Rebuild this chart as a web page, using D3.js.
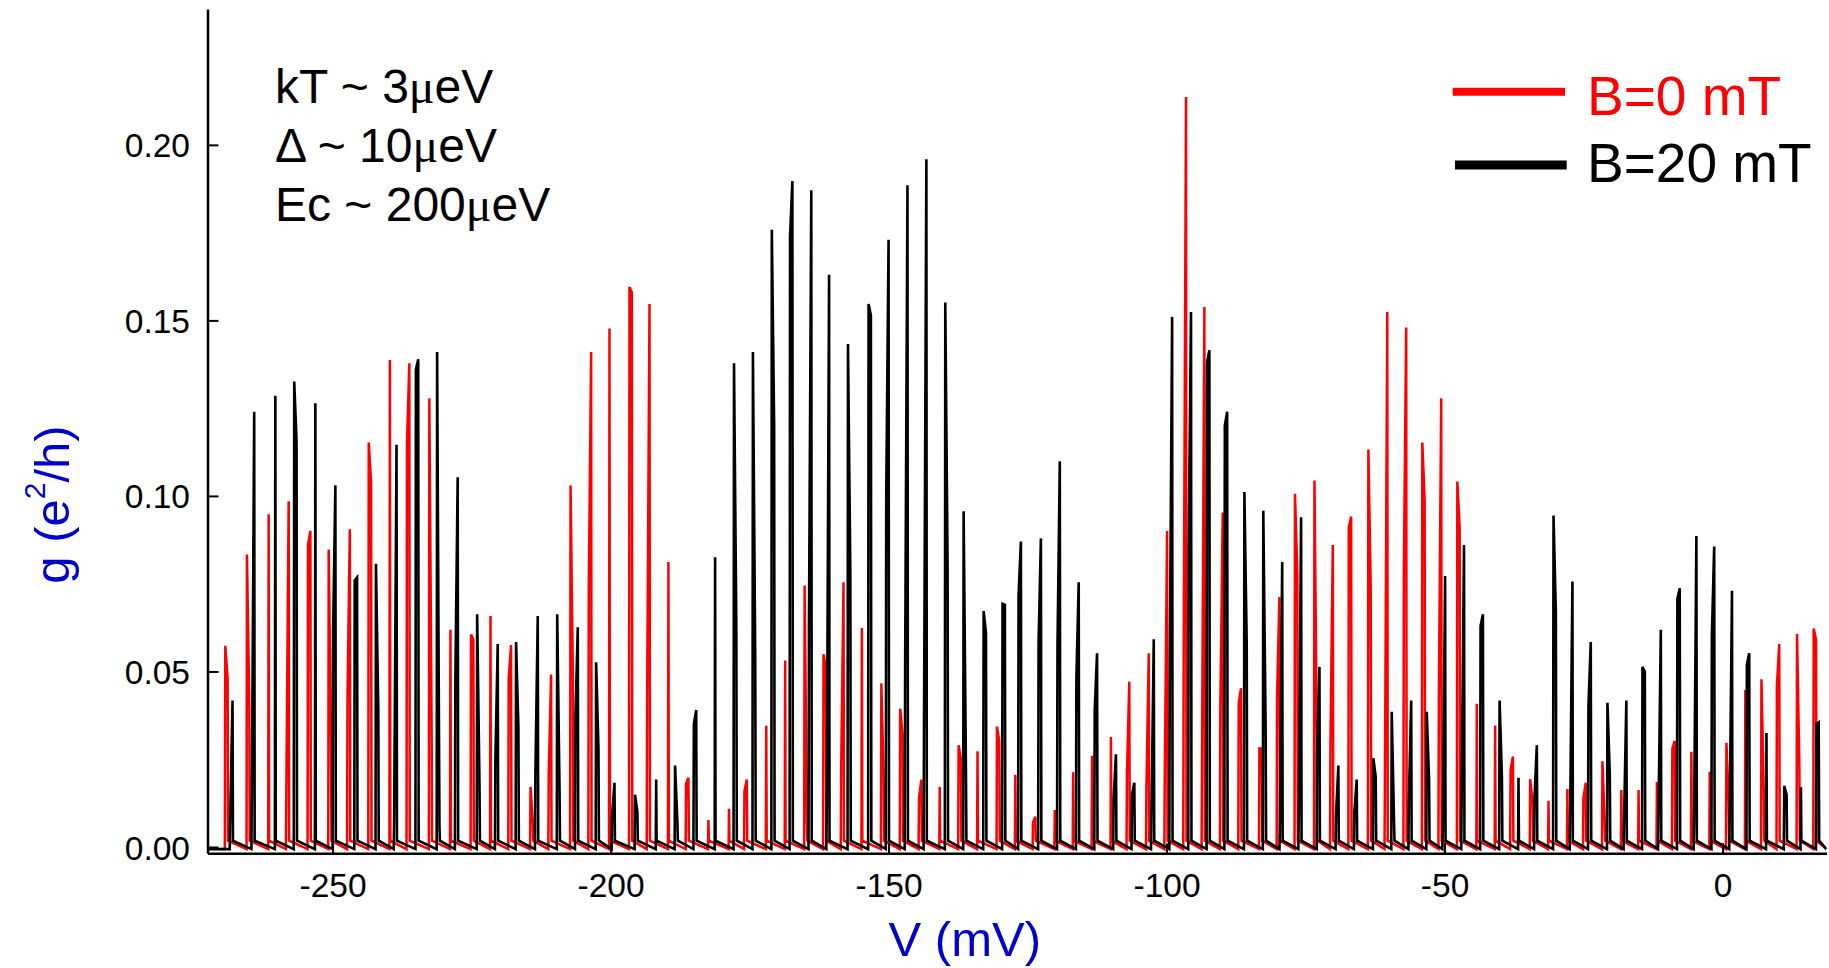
<!DOCTYPE html>
<html>
<head>
<meta charset="utf-8">
<script src="https://cdn.jsdelivr.net/npm/d3@7"></script>
<style>
  html, body { margin: 0; padding: 0; background: #fff; }
  svg { display: block; font-family: "Liberation Sans", Arial, Helvetica, sans-serif; }
</style>
</head>
<body>
<svg id="chart" width="1829" height="968"></svg>
<script>
// Coulomb-blockade conductance peaks g(V) at two magnetic fields.
// Each peak: gate voltage (mV), peak height (e^2/h), and a shoulder value:
// negative = shoulder on the rising (left) flank, positive = on the falling (right) flank, 0 = none.

const seriesNames = ["B=0 mT", "B=20 mT"];

const redV = [-269.3, -265.4, -261.5, -257.9, -254.0, -250.7, -246.9, -243.5, -239.7, -236.2,
  -232.6, -228.8, -225.1, -221.6, -217.9, -214.4, -210.7, -207.2, -203.5, -200.2,
  -196.6, -193.0, -189.6, -186.0, -182.4, -178.7, -175.5, -172.0, -168.6, -165.1,
  -161.7, -158.1, -154.8, -151.3, -147.9, -144.1, -140.8, -137.4, -134.0, -130.5,
  -127.2, -123.6, -120.1, -116.8, -113.4, -110.0, -106.7, -103.2, -99.9, -96.5,
  -93.2, -89.9, -86.6, -83.3, -79.7, -76.9, -73.4, -70.1, -66.8, -63.7,
  -60.3, -56.9, -54.0, -50.6, -47.7, -44.2, -40.9, -37.7, -34.6, -31.3,
  -27.9, -24.6, -21.6, -18.2, -15.1, -11.8, -8.6, -5.6, -2.3, 0.7,
  4.1, 7.0, 10.2, 13.4, 16.4];
const redG = [0.0573, 0.0833, 0.0948, 0.0985, 0.0900, 0.0847, 0.0905, 0.1152, 0.1387, 0.1378,
  0.1278, 0.0619, 0.0605, 0.0658, 0.0575, 0.0171, 0.0491, 0.1030, 0.1410, 0.1477,
  0.1595, 0.1547, 0.0812, 0.0197, 0.0077, 0.0109, 0.0192, 0.0345, 0.0531, 0.0745,
  0.0549, 0.0754, 0.0624, 0.0466, 0.0394, 0.0192, 0.0171, 0.0290, 0.0273, 0.0343,
  0.0206, 0.0086, 0.0105, 0.0213, 0.0260, 0.0313, 0.0471, 0.0552, 0.0900, 0.2136,
  0.1538, 0.0953, 0.0452, 0.0281, 0.0712, 0.1006, 0.1044, 0.0860, 0.0941, 0.1132,
  0.1524, 0.1480, 0.1152, 0.1278, 0.1041, 0.0408, 0.0346, 0.0258, 0.0193, 0.0132,
  0.0165, 0.0183, 0.0244, 0.0162, 0.0162, 0.0185, 0.0302, 0.0271, 0.0214, 0.0297,
  0.0447, 0.0478, 0.0578, 0.0607, 0.0622];
const redShoulder = [0.048, 0.040, 0, -0.016, -0.086, 0.030, -0.042, 0.104, 0, -0.115,
  0.032, 0, 0.059, 0, -0.048, 0.007, -0.021, 0.048, -0.074, 0,
  0.158, -0.043, 0, -0.018, 0, 0, -0.016, 0, 0, 0.006,
  0.051, -0.023, 0, 0.020, 0.032, -0.014, 0, 0.025, 0, 0.030,
  0, -0.007, 0, 0, 0, 0, -0.021, -0.017, -0.021, -0.055,
  -0.026, -0.041, -0.041, 0.028, -0.043, 0.078, 0.032, -0.029, -0.091, 0.074,
  -0.019, -0.078, 0.099, -0.043, 0.091, 0, 0, -0.022, 0.013, 0,
  0, -0.014, 0.007, 0, 0, 0, -0.028, 0, 0, 0.013,
  0, 0.016, -0.046, 0.023, 0.059];

const blackV = [-268.0, -264.1, -260.3, -256.9, -253.1, -249.5, -245.6, -242.2, -238.5, -234.6,
  -231.2, -227.5, -224.0, -220.3, -217.0, -213.1, -209.6, -205.9, -202.6, -199.3,
  -195.6, -191.8, -188.4, -184.6, -181.2, -177.8, -174.4, -171.0, -167.3, -163.9,
  -160.7, -157.3, -153.6, -150.0, -146.6, -143.2, -139.8, -136.5, -132.9, -129.5,
  -126.2, -122.6, -119.2, -115.8, -112.5, -109.1, -105.8, -102.3, -99.0, -95.6,
  -92.3, -89.1, -86.0, -82.6, -79.2, -75.8, -72.5, -69.1, -65.8, -62.8,
  -59.5, -56.0, -53.2, -49.9, -46.5, -43.1, -40.1, -36.7, -33.4, -30.4,
  -27.0, -23.7, -20.7, -17.3, -14.4, -11.1, -7.7, -4.7, -1.5, 1.7,
  4.8, 7.9, 11.1, 14.1, 17.3];
const blackG = [0.0417, 0.1240, 0.1285, 0.1326, 0.1264, 0.1030, 0.0768, 0.0807, 0.1146, 0.1389,
  0.1410, 0.1053, 0.0663, 0.0578, 0.0584, 0.0658, 0.0663, 0.0626, 0.0526, 0.0183,
  0.0149, 0.0192, 0.0232, 0.0390, 0.0825, 0.1378, 0.1410, 0.1758, 0.1897, 0.1871,
  0.1630, 0.1433, 0.1547, 0.1730, 0.1885, 0.1959, 0.1551, 0.0956, 0.0672, 0.0693,
  0.0870, 0.0879, 0.1099, 0.0754, 0.0552, 0.0264, 0.0183, 0.0592, 0.1510, 0.1524,
  0.1415, 0.1240, 0.1011, 0.0958, 0.0812, 0.0939, 0.0513, 0.0232, 0.0192, 0.0253,
  0.0385, 0.0417, 0.0385, 0.0772, 0.0860, 0.0663, 0.0417, 0.0197, 0.0290, 0.0944,
  0.0756, 0.0584, 0.0411, 0.0417, 0.0513, 0.0619, 0.0737, 0.0886, 0.0856, 0.0730,
  0.0552, 0.0325, 0.0174, 0.0171, 0.0355];
const blackShoulder = [-0.008, -0.016, 0, 0.1155, 0, -0.060, -0.076, 0.039, -0.010, -0.136,
  0.006, -0.048, 0.018, -0.025, 0.034, -0.021, 0.016, -0.037, 0.028, -0.009,
  0.010, 0, 0.007, -0.035, 0, 0.062, 0.053, 0.120, -0.174, -0.062,
  -0.010, 0.0786, 0.1515, -0.1006, -0.051, -0.037, 0.080, 0.021, 0.061, 0.069,
  -0.0716, -0.058, -0.057, -0.048, -0.039, -0.014, -0.015, -0.009, -0.051, -0.0865,
  -0.138, -0.120, 0.058, 0.034, -0.004, -0.009, -0.027, -0.009, -0.010, 0.020,
  0.007, -0.013, 0.019, -0.004, -0.014, -0.063, 0.020, 0, -0.014, 0.067,
  -0.007, -0.040, 0.021, -0.007, 0.050, -0.009, -0.0707, -0.007, -0.060, -0.007,
  -0.052, 0, 0.015, 0, -0.035];

const xTicks = [-250, -200, -150, -100, -50, 0];
const yTicks = [0.00, 0.05, 0.10, 0.15, 0.20];
// Parameter notes: [prefix, value]; each is followed by a "μeV" unit
const notes = [["kT ~ ", "3"], ["\u0394 ~ ", "10"], ["Ec ~ ", "200"]];

const RED = "#ff0000", BLACK = "#000000", BLUE = "#0000cc";

const svg = d3.select("#chart");
const plotLeft = 207.5, plotRight = 1826.5, plotTop = 9, plotBottom = 853.3;

const x = d3.scaleLinear().domain([-272.5, 18.7]).range([plotLeft, plotRight]);
const y = d3.scaleLinear().domain([-0.0018, 0.2387]).range([plotBottom, plotTop]);

// Trace geometry (mV / conductance offsets of the sawtooth baseline)
const EDGE = 0.08, SH = 0.42, BASE_HI = 0.0018, BASE_LO = -0.0006;

function trace(pos, amp, sh, start, end) {
  const pts = [[start, BASE_LO]];
  pos.forEach((v, i) => {
    const g = amp[i], s = sh[i];
    if (s < 0) {
      pts.push([v - SH - EDGE, BASE_LO], [v - SH, -s], [v, g], [v + EDGE, BASE_HI]);
    } else if (s > 0) {
      pts.push([v - EDGE, BASE_LO], [v, g], [v + SH, s], [v + SH + EDGE, BASE_HI]);
    } else {
      pts.push([v - EDGE, BASE_LO], [v, g], [v + EDGE, BASE_HI]);
    }
  });
  pts.push([end, BASE_LO]);
  return pts;
}

const line = d3.line().x(d => x(d[0])).y(d => y(d[1]));

svg.append("defs").append("clipPath").attr("id", "plot")
  .append("rect").attr("x", plotLeft).attr("y", plotTop - 2)
  .attr("width", plotRight - plotLeft).attr("height", plotBottom - plotTop + 2);

const plot = svg.append("g").attr("clip-path", "url(#plot)");

plot.append("path")
  .datum(trace(redV, redG, redShoulder, -270.2, 18.7))
  .attr("d", line).attr("fill", "none")
  .attr("stroke", RED).attr("stroke-width", 2.5);

plot.append("path")
  .datum(trace(blackV, blackG, blackShoulder, -272.5, 18.7))
  .attr("d", line).attr("fill", "none")
  .attr("stroke", BLACK).attr("stroke-width", 2.6);

// Axes
const xAxis = svg.append("g").attr("transform", `translate(0,${plotBottom})`)
  .call(d3.axisBottom(x).tickValues(xTicks).tickSizeInner(-10).tickSizeOuter(0)
    .tickPadding(20).tickFormat(d => d3.format("d")(d).replace("\u2212", "-")));
const yAxis = svg.append("g").attr("transform", `translate(${plotLeft},0)`)
  .call(d3.axisLeft(y).tickValues(yTicks).tickSizeInner(-11).tickSizeOuter(0)
    .tickPadding(17.5).tickFormat(d3.format(".2f")));

[xAxis, yAxis].forEach(a => {
  a.select(".domain").attr("stroke", BLACK).attr("stroke-width", 2.5);
  a.selectAll(".tick line").attr("stroke", BLACK).attr("stroke-width", 2);
  a.selectAll(".tick text").attr("fill", BLACK)
    .style("font-family", '"Liberation Sans", Arial, sans-serif')
    .style("font-size", "33.5px");
});
yAxis.selectAll(".tick text").attr("dy", "0.36em");

// Axis titles
svg.append("text")
  .attr("x", 964.8).attr("y", 956)
  .attr("text-anchor", "middle")
  .attr("fill", BLUE).style("font-size", "49px")
  .text("V (mV)");

const yt = svg.append("text")
  .attr("transform", "translate(69,504.5) rotate(-90)")
  .attr("text-anchor", "middle")
  .attr("fill", BLUE).style("font-size", "49px");
yt.append("tspan").text("g (e");
yt.append("tspan").attr("dy", -24).style("font-size", "30px").text("2");
yt.append("tspan").attr("dy", 24).text("/h)");

// Parameter notes (μ set in a serif face, as in the symbol font)
const noteText = svg.append("g").selectAll("text").data(notes).join("text")
  .attr("x", 275)
  .attr("y", (d, i) => 103.3 + i * 58.7)
  .attr("fill", BLACK).style("font-size", "48px");
noteText.append("tspan").text(d => d[0] + d[1]);
noteText.append("tspan").style("font-family", '"Liberation Serif", "DejaVu Serif", serif').text("\u03BC");
noteText.append("tspan").text("eV");

// Legend
const legend = svg.append("g");
const legendRows = [
  { name: seriesNames[0], color: RED, x1: 1452.7, x2: 1565, y: 91.7, ty: 115, w: 8 },
  { name: seriesNames[1], color: BLACK, x1: 1455, x2: 1566.7, y: 165, ty: 181.7, w: 9 }
];
legendRows.forEach(r => {
  legend.append("line")
    .attr("x1", r.x1).attr("x2", r.x2).attr("y1", r.y).attr("y2", r.y)
    .attr("stroke", r.color).attr("stroke-width", r.w);
  legend.append("text")
    .attr("x", 1587).attr("y", r.ty)
    .attr("fill", r.color).style("font-size", "55px")
    .text(r.name);
});
</script>
</body>
</html>
